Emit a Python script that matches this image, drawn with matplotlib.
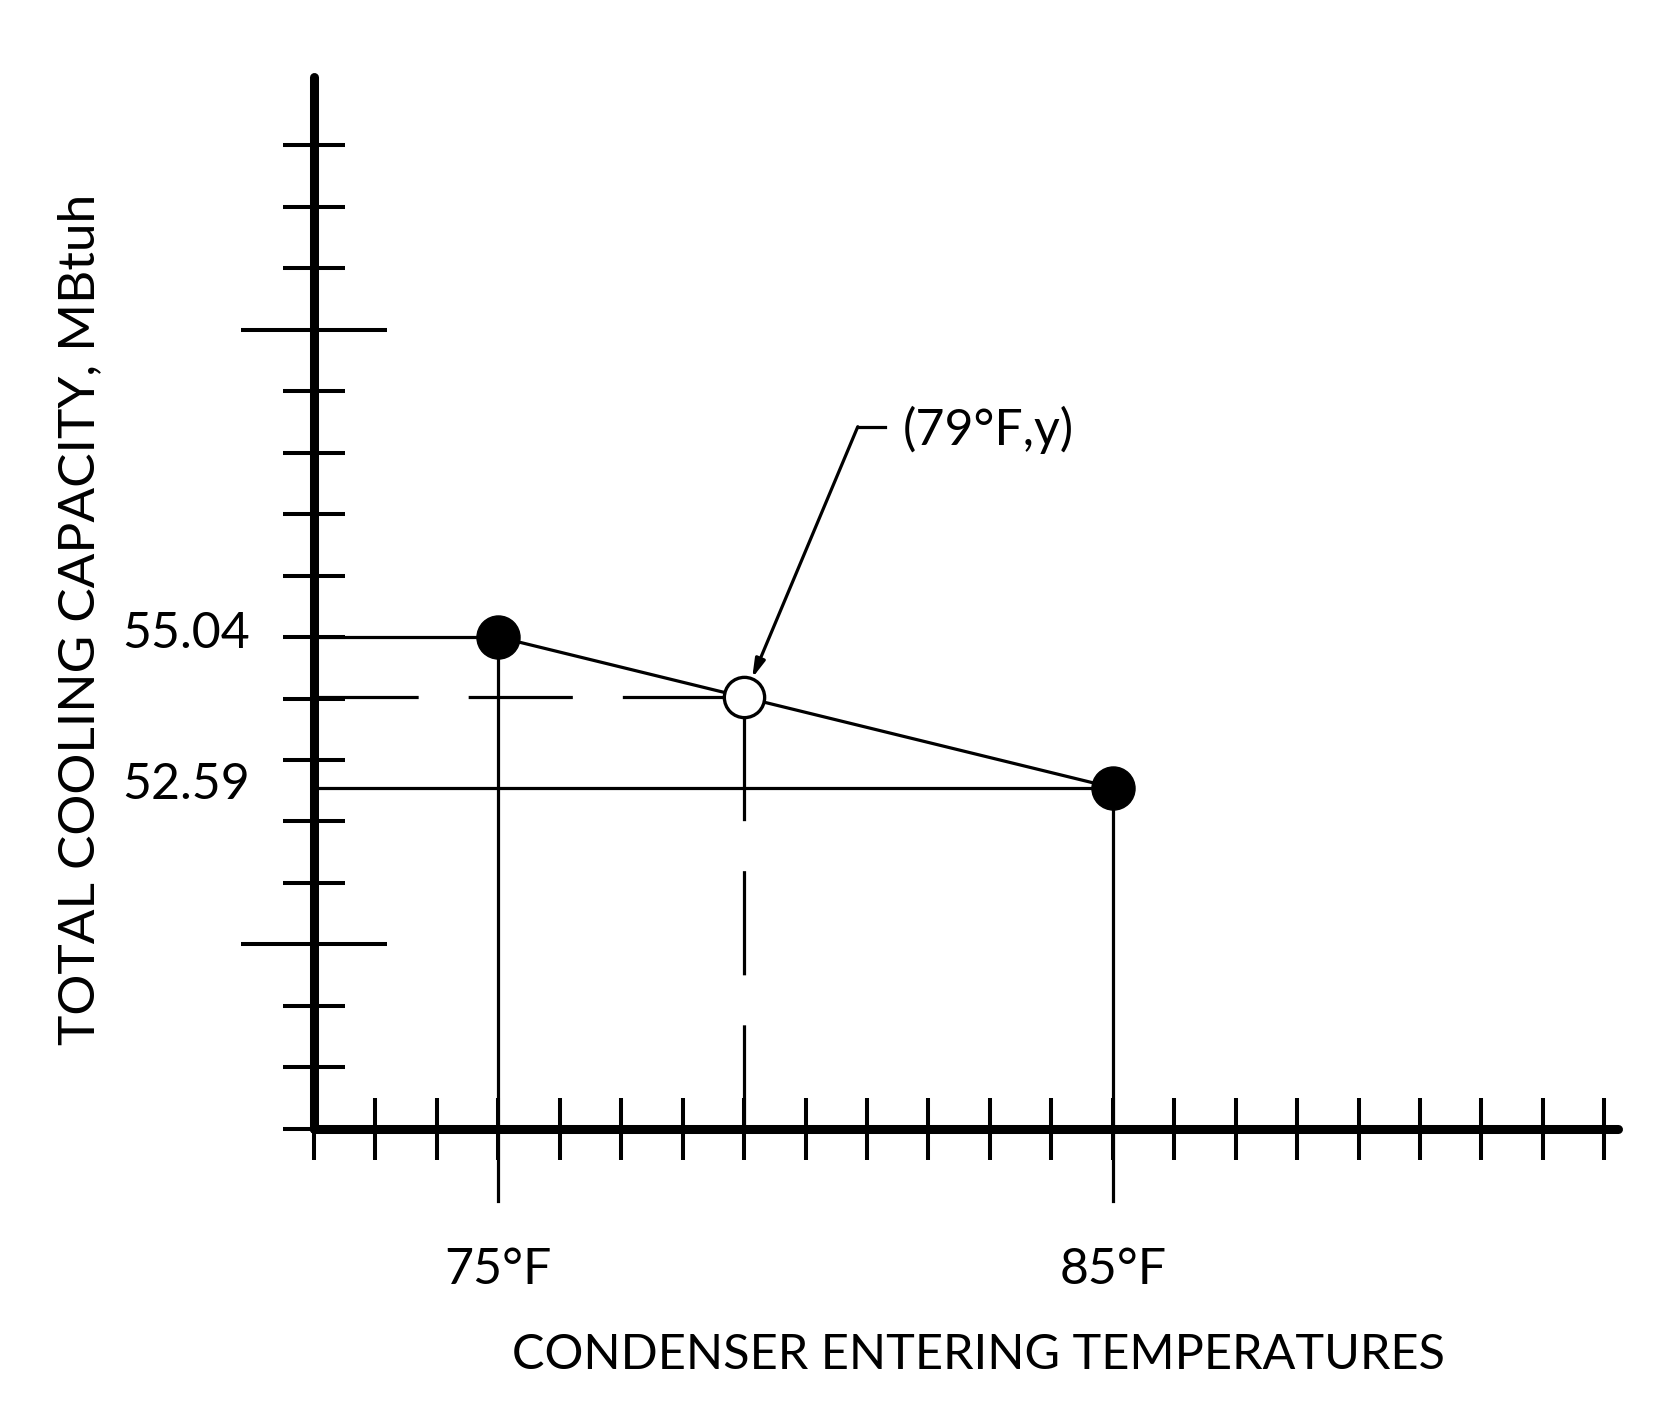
import numpy as np
import matplotlib
matplotlib.use('Agg')
import matplotlib.pyplot as plt

plt.rcParams['font.family'] = ['Lato', 'DejaVu Sans']
plt.rcParams['lines.scale_dashes'] = False

# data
temps = [75, 85]                 # condenser entering temps, F
capacity = [55.04, 52.59]        # total cooling capacity, MBtuh
target_temp = 79
temp_labels = ['75°F', '85°F']
cap_labels = ['55.04', '52.59']

y_target = np.interp(target_temp, temps, capacity)

# axis layout (1 tick = 1 F / 1 MBtuh)
x0, y0 = 72, 47.04
xticks = np.arange(72, 94)
yticks = y0 + np.arange(0, 17)
ybig = [50.04, 60.04]
ysmall = [v for v in yticks if round(v, 2) not in ybig]

fig = plt.figure(figsize=(16.67, 14.05), dpi=100)
ax = fig.add_axes([0, 0, 1, 1])
ax.set_xlim(66.89, 94.02)
ax.set_ylim(42.55, 65.40)

# axes drawn as spines crossing at (72, 47.04)
for s in ['top', 'right']:
    ax.spines[s].set_visible(False)
ax.spines['left'].set_position(('data', x0))
ax.spines['bottom'].set_position(('data', y0))
ax.spines['left'].set_bounds(y0, 64.15)
ax.spines['bottom'].set_bounds(x0, 93.22)
for s in ['left', 'bottom']:
    ax.spines[s].set_linewidth(6.5)
    ax.spines[s].set_capstyle('round')
    ax.spines[s].set_zorder(3)

ax.set_xticks(xticks)
ax.set_xticklabels([])
ax.set_yticks(ybig)
ax.set_yticks(ysmall, minor=True)
ax.set_yticklabels([])
ax.tick_params(axis='x', direction='inout', length=44, width=2.9, color='black')
ax.tick_params(axis='y', which='major', direction='inout', length=105, width=2.9, color='black')
ax.tick_params(axis='y', which='minor', direction='inout', length=44, width=2.9, color='black')

lw = 2.3
# reference lines from known points
drop = 1.18
for t, c in zip(temps, capacity):
    ax.plot([x0, t], [c, c], color='black', lw=lw, zorder=2)
    ax.plot([t, t], [y0 - drop, c], color='black', lw=lw, zorder=2)

# dashed lines to interpolated point
ax.plot([x0, target_temp], [y_target, y_target], color='black', lw=lw,
        dashes=(75, 36), zorder=2)
ax.plot([target_temp, target_temp], [y0, y_target], color='black', lw=lw,
        dashes=(75, 36), zorder=2)

# interpolation line and points
ax.plot(temps, capacity, color='black', lw=lw, zorder=4)
ax.plot(temps, capacity, 'o', color='black', ms=31, zorder=5)
ax.plot([target_temp], [y_target], 'o', mfc='white', mec='black', mew=2.4,
        ms=29, zorder=5)

# leader to interpolated point
elbow = (80.85, 58.46)
ax.plot([elbow[0], elbow[0] + 0.44], [elbow[1], elbow[1]], color='black', lw=lw)
ax.annotate('', xy=(target_temp, y_target), xytext=elbow,
            arrowprops=dict(arrowstyle='-|>,head_length=1.1,head_width=0.3',
                            color='black', lw=lw, shrinkA=0, shrinkB=15))
ax.text(elbow[0] + 0.74, elbow[1] - 0.05, '(79°F,y)', fontsize=36, ha='left',
        va='center')

# labels
for c, lab in zip(capacity, cap_labels):
    ax.text(x0 - 1.04, c + 0.05, lab, fontsize=36, ha='right', va='center')
for t, lab in zip(temps, temp_labels):
    ax.text(t, y0 - 2.29, lab, fontsize=36, ha='center', va='center')

ax.text(82.81, 43.37, 'CONDENSER ENTERING TEMPERATURES', fontsize=35,
        ha='center', va='center')
ax.text(68.19, 55.32, 'TOTAL COOLING CAPACITY, MBtuh', fontsize=37,
        ha='center', va='center', rotation=90)

fig.savefig('out.png', dpi=100)
